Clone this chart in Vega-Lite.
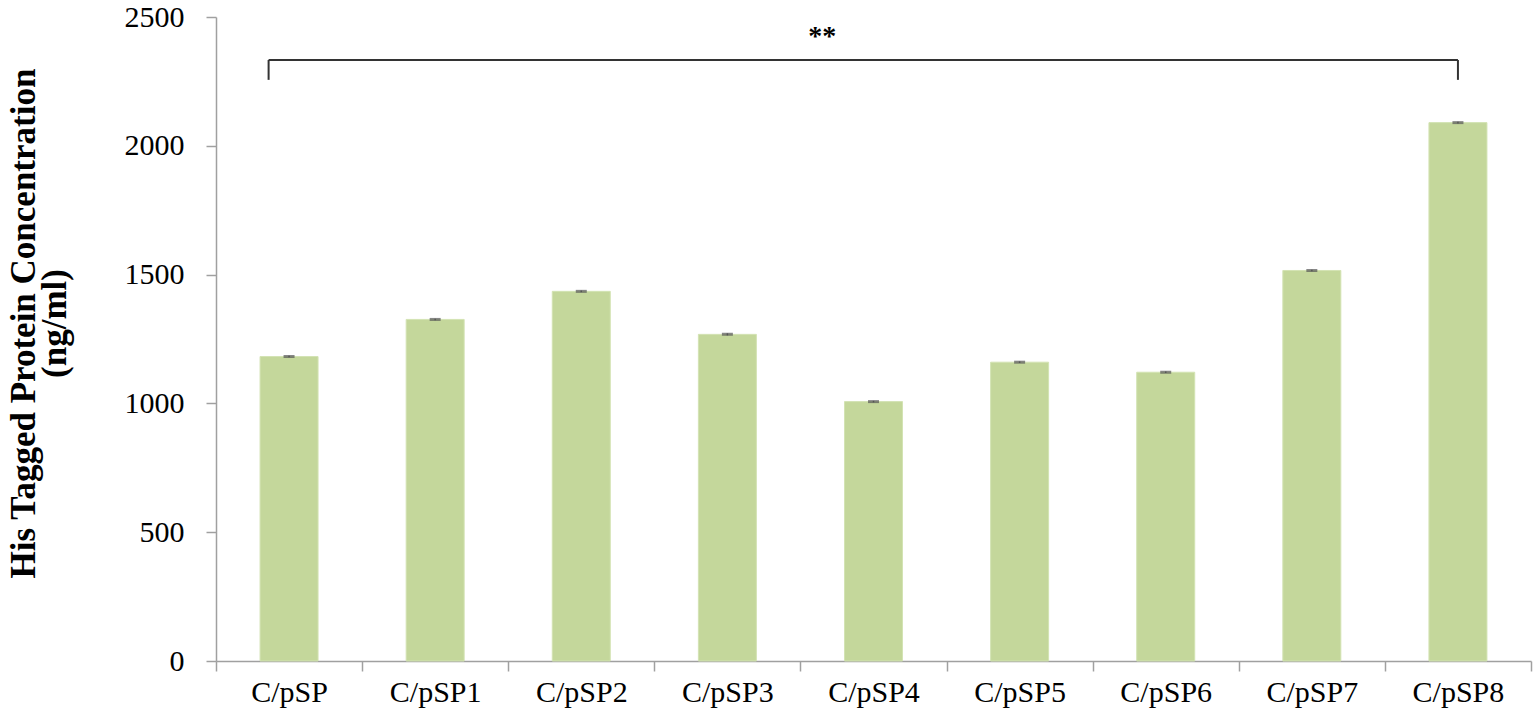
{
  "$schema": "https://vega.github.io/schema/vega-lite/v6.json",
  "width": 1315,
  "height": 644,
  "padding": {"left": 6, "top": 2, "right": 5, "bottom": 5},
  "background": "white",
  "config": {"view": {"stroke": null}, "font": "Liberation Serif"},
  "datasets": {
    "bars": [
      {"group": "C/pSP", "value": 1182, "err": 3},
      {"group": "C/pSP1", "value": 1326, "err": 3},
      {"group": "C/pSP2", "value": 1435, "err": 3},
      {"group": "C/pSP3", "value": 1268, "err": 4},
      {"group": "C/pSP4", "value": 1007, "err": 3},
      {"group": "C/pSP5", "value": 1160, "err": 3},
      {"group": "C/pSP6", "value": 1121, "err": 3},
      {"group": "C/pSP7", "value": 1516, "err": 3},
      {"group": "C/pSP8", "value": 2090, "err": 3}
    ],
    "bracket": [
      {"start": "C/pSP", "end": "C/pSP8", "y": 2333, "ylo": 2256}
    ],
    "sig": [
      {"group": "C/pSP4", "y": 2422, "label": "**"}
    ]
  },
  "layer": [
    {
      "data": {"name": "bars"},
      "mark": {"type": "bar", "color": "#c4d79b", "stroke": "#d3e3b3", "strokeWidth": 1, "width": 58},
      "encoding": {
        "x": {
          "field": "group", "type": "nominal", "sort": null,
          "scale": {"paddingInner": 0, "paddingOuter": 0},
          "axis": {
            "title": null,
            "labelAngle": 0, "labelFont": "Liberation Serif", "labelFontSize": 30, "labelColor": "#000000",
            "domainColor": "#a0a0a0", "tickColor": "#a0a0a0", "tickSize": 10, "tickBand": "extent",
            "labelPadding": 6, "domainWidth": 1.5, "tickWidth": 1.5
          }
        },
        "y": {
          "field": "value", "type": "quantitative",
          "title": ["His Tagged Protein Concentration", "(ng/ml)"],
          "scale": {"domain": [0, 2500], "nice": false},
          "axis": {
            "values": [0, 500, 1000, 1500, 2000, 2500], "grid": false, "format": "d",
            "labelFont": "Liberation Serif", "labelFontSize": 30, "labelColor": "#000000",
            "domainColor": "#a0a0a0", "tickColor": "#a0a0a0", "tickSize": 10, "labelPadding": 22,
            "domainWidth": 1.5, "tickWidth": 1.5,
            "titleFont": "Liberation Serif", "titleFontSize": 35, "titleFontWeight": "bold",
            "titleColor": "#000000", "titlePadding": 52, "titleLineHeight": 31, "titleY": 306
          }
        }
      }
    },
    {
      "data": {"name": "bars"},
      "transform": [
        {"calculate": "datum.value - datum.err", "as": "lo"},
        {"calculate": "datum.value + datum.err", "as": "hi"}
      ],
      "mark": {"type": "rule", "color": "#555555", "strokeWidth": 1.5},
      "encoding": {
        "x": {"field": "group", "type": "nominal", "sort": null},
        "y": {"field": "lo", "type": "quantitative"},
        "y2": {"field": "hi"}
      }
    },
    {
      "data": {"name": "bars"},
      "mark": {"type": "tick", "color": "#555555", "size": 11, "thickness": 3, "orient": "horizontal"},
      "encoding": {
        "x": {"field": "group", "type": "nominal", "sort": null},
        "y": {"field": "value", "type": "quantitative"}
      }
    },
    {
      "data": {"name": "bracket"},
      "mark": {"type": "rule", "color": "#333333", "strokeWidth": 2},
      "encoding": {
        "x": {"field": "start", "type": "nominal", "bandPosition": 0.36},
        "x2": {"field": "end", "bandPosition": 0.5},
        "y": {"field": "y", "type": "quantitative"}
      }
    },
    {
      "data": {"name": "bracket"},
      "mark": {"type": "rule", "color": "#333333", "strokeWidth": 2},
      "encoding": {
        "x": {"field": "start", "type": "nominal", "bandPosition": 0.36},
        "y": {"field": "ylo", "type": "quantitative"},
        "y2": {"field": "y"}
      }
    },
    {
      "data": {"name": "bracket"},
      "mark": {"type": "rule", "color": "#333333", "strokeWidth": 2},
      "encoding": {
        "x": {"field": "end", "type": "nominal", "bandPosition": 0.5},
        "y": {"field": "ylo", "type": "quantitative"},
        "y2": {"field": "y"}
      }
    },
    {
      "data": {"name": "sig"},
      "mark": {"type": "text", "font": "Liberation Serif", "fontSize": 28, "fontWeight": "bold", "color": "#000000", "baseline": "middle"},
      "encoding": {
        "x": {"field": "group", "type": "nominal", "bandPosition": 0.15},
        "y": {"field": "y", "type": "quantitative"},
        "text": {"field": "label"}
      }
    }
  ]
}
